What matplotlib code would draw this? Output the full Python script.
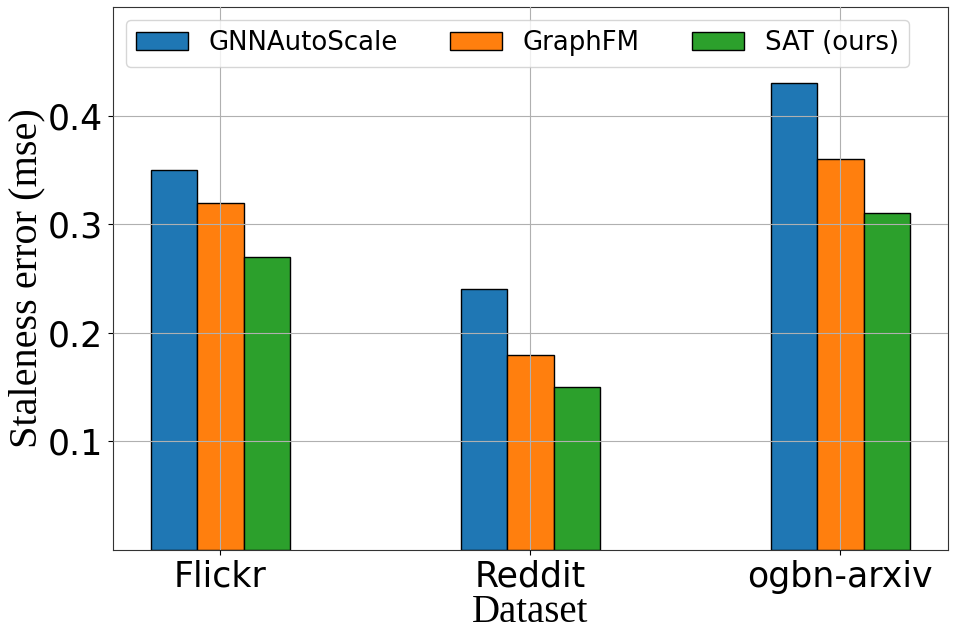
import numpy as np
import matplotlib.pyplot as plt

datasets = ['Flickr', 'Reddit', 'ogbn-arxiv']
methods = ['GNNAutoScale', 'GraphFM', 'SAT (ours)']
gas = [0.35, 0.24, 0.43]
graphfm = [0.32, 0.18, 0.36]
sat = [0.27, 0.15, 0.31]
colors = ['#1f77b4', '#ff7f0e', '#2ca02c']

fig, ax = plt.subplots(figsize=(9.56, 6.41), dpi=100)
fig.subplots_adjust(left=0.118, right=0.9916, bottom=0.142, top=0.989)

x = np.arange(len(datasets))
w = 0.15
for i, (vals, name) in enumerate(zip([gas, graphfm, sat], methods)):
    ax.bar(x + (i - 1) * w, vals, w, label=name, color=colors[i],
           edgecolor='black', linewidth=1)

ax.set_ylim(0, 0.5)
ax.set_yticks([0.1, 0.2, 0.3, 0.4])
ax.set_xticks(x)
ax.set_xticklabels(datasets)
ax.tick_params(axis='both', labelsize=25)
ax.grid(True, color='#b0b0b0', linewidth=0.8)
ax.set_axisbelow(False)
for s in ax.spines.values():
    s.set_color('0.2')

ax.set_xlabel('Dataset', family='Liberation Serif', fontsize=28, labelpad=0)
ax.set_ylabel('Staleness error (mse)', family='Liberation Serif', fontsize=29, labelpad=2)
ax.legend(loc='upper left', ncol=3, fontsize=18.7)

fig.savefig('out.png', dpi=100)
